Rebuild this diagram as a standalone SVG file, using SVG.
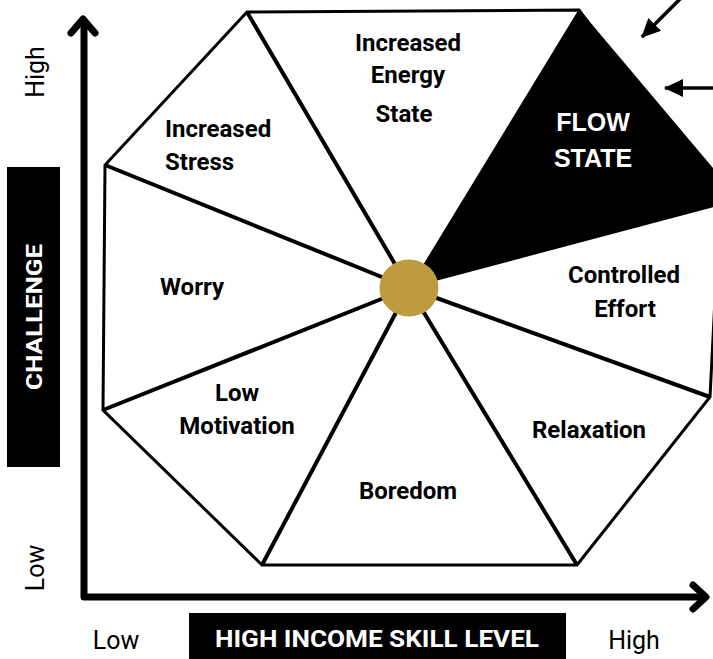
<svg xmlns="http://www.w3.org/2000/svg" width="713" height="659" viewBox="0 0 713 659">
<style>
.lbl{font-family:Roboto,"Liberation Sans",Arial,sans-serif;font-weight:700;font-size:24px;fill:#000;text-anchor:middle}
.flow{font-family:"Liberation Sans",Arial,sans-serif;font-weight:700;font-size:25px;fill:#fff;text-anchor:middle}
.axis{font-family:Roboto,"Liberation Sans",Arial,sans-serif;font-weight:400;font-size:25px;fill:#000;text-anchor:middle}
.box{font-family:Roboto,"Liberation Sans",Arial,sans-serif;font-weight:700;fill:#fff;text-anchor:middle}
.spoke{stroke:#000;stroke-width:4;fill:none}
.edge{stroke:#000;stroke-width:3;fill:none;stroke-linejoin:miter}
.ax{stroke:#000;stroke-width:7;fill:none;stroke-linecap:round;stroke-linejoin:round}
.ptr{stroke:#000;stroke-width:3.5;fill:none}
</style>
<defs>
<marker id="head" markerUnits="userSpaceOnUse" markerWidth="20" markerHeight="20" viewBox="0 0 20 20" refX="18" refY="10" orient="auto">
<path d="M0,1 L19,10 L0,19 Z" fill="#000"/>
</marker>
</defs>
<rect width="713" height="659" fill="#fff"/>

<g id="octagon">
<polygon class="edge" points="247,12 579,10 720,200 710,397 577,565 262,565 103,410 105,165"/>
</g>

<g id="flow-state">
<polygon points="409,288 579,9 740,200" fill="#000"/>
<text class="flow" x="593" y="131">FLOW</text>
<text class="flow" x="593" y="167">STATE</text>
</g>

<g id="connectors">
<line class="spoke" x1="409" y1="288" x2="247" y2="12"/>
<line class="spoke" x1="409" y1="288" x2="105" y2="165"/>
<line class="spoke" x1="409" y1="288" x2="103" y2="410"/>
<line class="spoke" x1="409" y1="288" x2="262" y2="565"/>
<line class="spoke" x1="409" y1="288" x2="577" y2="565"/>
<line class="spoke" x1="409" y1="288" x2="710" y2="397"/>
<line class="ptr" x1="681" y1="-2" x2="642" y2="37" marker-end="url(#head)"/>
<line class="ptr" x1="715" y1="88" x2="665" y2="88" marker-end="url(#head)"/>
</g>

<g id="center">
<ellipse cx="409" cy="288" rx="29.5" ry="28.5" fill="#BF9B40"/>
</g>

<g id="increased-energy-state">
<text class="lbl" x="408" y="50.5">Increased</text>
<text class="lbl" x="408" y="82.5">Energy</text>
<text class="lbl" x="404" y="121.5">State</text>
</g>
<g id="increased-stress">
<text class="lbl" x="165" y="136.5" style="text-anchor:start">Increased</text>
<text class="lbl" x="165" y="169.5" style="text-anchor:start">Stress</text>
</g>
<g id="worry"><text class="lbl" x="192" y="294.5">Worry</text></g>
<g id="low-motivation">
<text class="lbl" x="237" y="400.5">Low</text>
<text class="lbl" x="237" y="433.5">Motivation</text>
</g>
<g id="boredom"><text class="lbl" x="408" y="498.5">Boredom</text></g>
<g id="relaxation"><text class="lbl" x="589" y="437.5">Relaxation</text></g>
<g id="controlled-effort">
<text class="lbl" x="624" y="282.5">Controlled</text>
<text class="lbl" x="625" y="316.5">Effort</text>
</g>

<g id="axes">
<polyline class="ax" points="84,24 84,597 703,597"/>
<polyline class="ax" points="71,33 83,19 95,33"/>
<polyline class="ax" points="693,585 706,597 693,609"/>
</g>

<g id="y-axis-labels">
<text class="axis" transform="translate(44,72) rotate(-90)">High</text>
<text class="axis" transform="translate(44,568) rotate(-90)">Low</text>
</g>
<g id="challenge">
<rect x="7" y="167" width="53" height="300" fill="#000"/>
<text class="box" font-size="22" transform="translate(42,317) rotate(-90)" textLength="146" lengthAdjust="spacingAndGlyphs">CHALLENGE</text>
</g>
<g id="x-axis-labels">
<text class="axis" x="116" y="649">Low</text>
<text class="axis" x="634" y="649">High</text>
</g>
<g id="skill">
<rect x="189" y="613" width="377" height="50" fill="#000"/>
<text class="box" font-size="24" x="377" y="647" textLength="324" lengthAdjust="spacingAndGlyphs">HIGH INCOME SKILL LEVEL</text>
</g>
</svg>
